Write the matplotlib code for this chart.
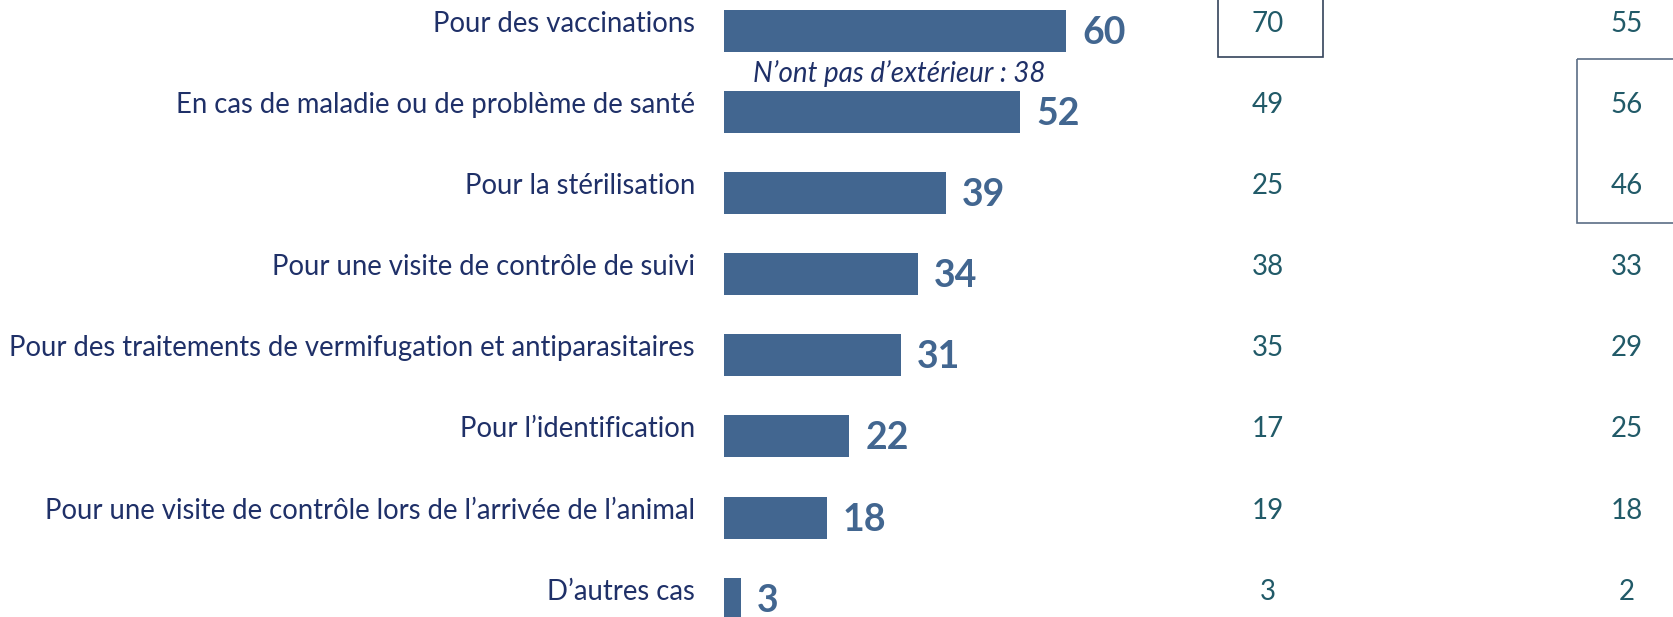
import matplotlib
matplotlib.use("Agg")
import matplotlib.pyplot as plt
from matplotlib.patches import Rectangle

plt.rcParams['font.family'] = ['Lato', 'DejaVu Sans']

# data
categories = [
    "Pour des vaccinations",
    "En cas de maladie ou de problème de santé",
    "Pour la stérilisation",
    "Pour une visite de contrôle de suivi",
    "Pour des traitements de vermifugation et antiparasitaires",
    "Pour l’identification",
    "Pour une visite de contrôle lors de l’arrivée de l’animal",
    "D’autres cas",
]
values = [60, 52, 39, 34, 31, 22, 18, 3]
col_a = [70, 49, 25, 38, 35, 17, 19, 3]
col_b = [55, 56, 46, 33, 29, 25, 18, 2]
note = "N’ont pas d’extérieur : 38"

BAR = "#426690"
LABEL = "#1f3068"
TEAL = "#215a68"

fig = plt.figure(figsize=(16.73, 6.17), dpi=100)
ax = fig.add_axes([724 / 1673, 0, 949 / 1673, 1])
ax.set_xlim(0, 949 / 5.7)
ax.set_ylim(7.226, -0.382)
ax.axis("off")

ys = list(range(len(categories)))
ax.barh(ys, values, height=0.518, color=BAR)

ytr = ax.get_yaxis_transform()
for y, cat, v, a, b in zip(ys, categories, values, col_a, col_b):
    ax.annotate(cat, xy=(0, y), xytext=(-29, 7), textcoords="offset pixels",
                ha="right", va="center", fontsize=19.8, color=LABEL)
    ax.annotate(str(v), xy=(v, y), xytext=(16, -2), textcoords="offset pixels",
                ha="left", va="center", fontsize=27, fontweight="bold", color=BAR)
    ax.annotate(str(a), xy=(0.5732, y), xycoords=ytr, xytext=(0, 7),
                textcoords="offset pixels", ha="center", va="center",
                fontsize=20, color=TEAL)
    ax.annotate(str(b), xy=(0.9515, y), xycoords=ytr, xytext=(0, 7),
                textcoords="offset pixels", ha="center", va="center",
                fontsize=20, color=TEAL)

ax.text(0.1844, 0.53, note, transform=ytr, ha="center", va="center",
        fontsize=20, style="italic", color=LABEL)

# highlight boxes
ax.add_patch(Rectangle((0.5205, -0.7), 0.6312 - 0.5205, 0.32 + 0.7,
                       transform=ytr, fill=False, edgecolor="#34435a",
                       linewidth=1.2, clip_on=False))
ax.add_patch(Rectangle((0.8988, 0.345), 0.2, 2.367 - 0.345,
                       transform=ytr, fill=False, edgecolor="#5b6d85",
                       linewidth=1.2, clip_on=False))

fig.savefig("out.png", dpi=100)
